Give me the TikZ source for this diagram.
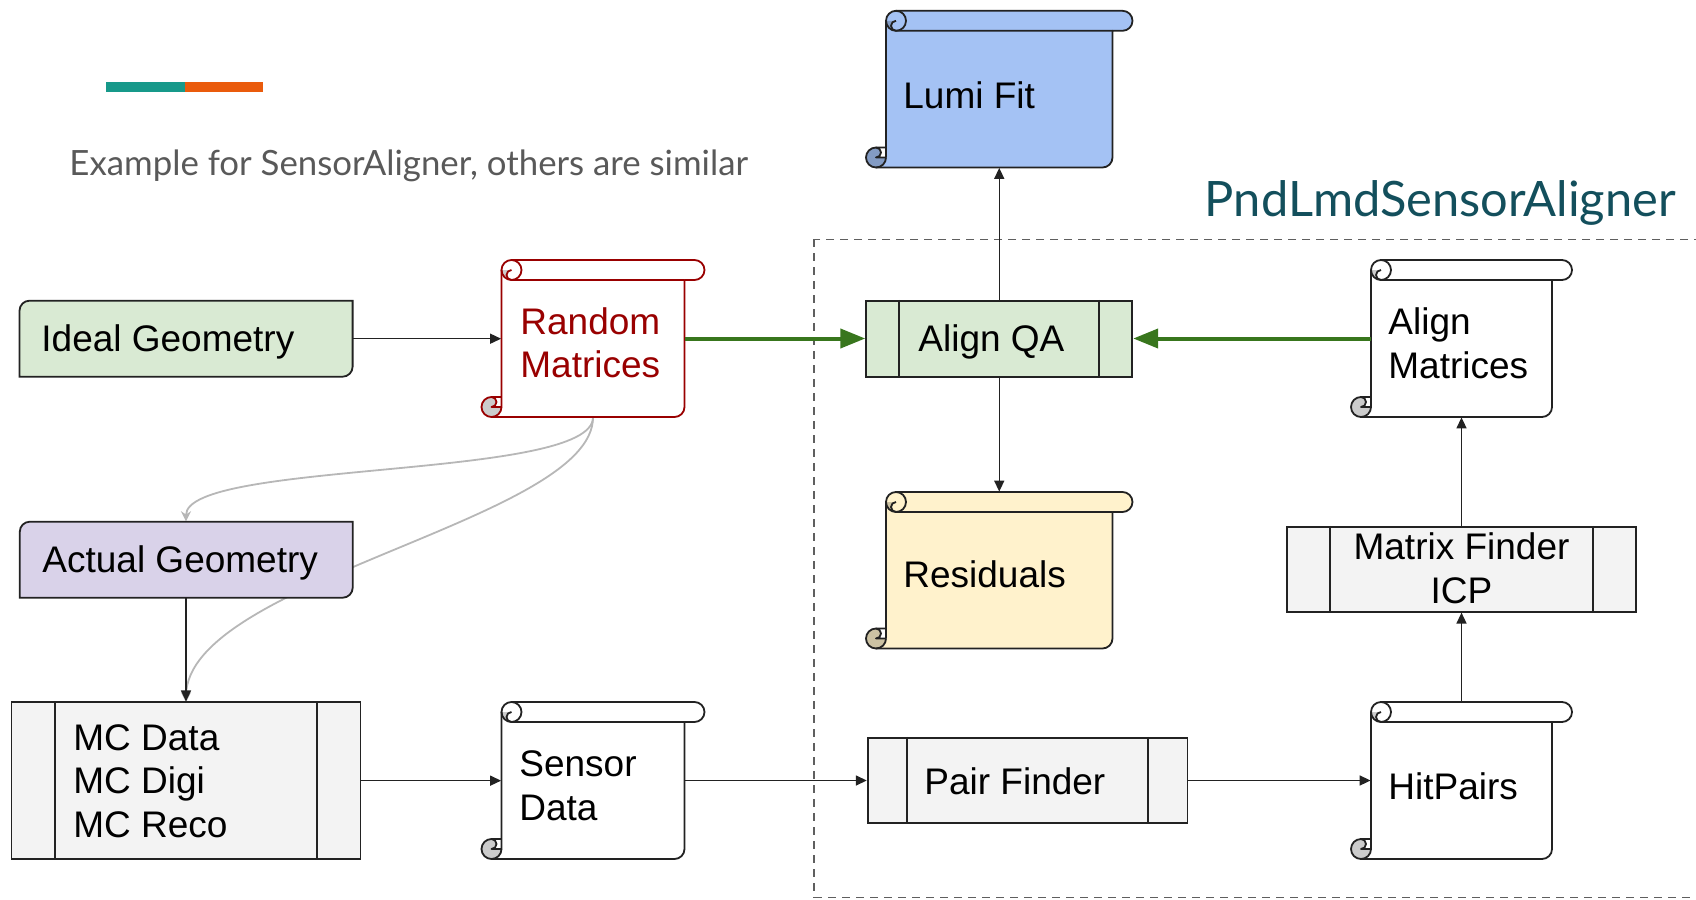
\documentclass[tikz,border=0pt]{standalone}
\usepackage{fontspec}
\setmainfont{Liberation Sans}
\newfontfamily\latofont{Lato}
\usetikzlibrary{arrows.meta}
\pgfdeclarelayer{background}
\pgfsetlayers{background,main}
\definecolor{geoGreen}{HTML}{D9EAD3}
\definecolor{geoPurple}{HTML}{D9D2E9}
\definecolor{lumiBlue}{HTML}{A4C2F4}
\definecolor{lumiCurl}{HTML}{839BC3}
\definecolor{resYellow}{HTML}{FFF2CC}
\definecolor{resCurl}{HTML}{CCC2A3}
\definecolor{procGray}{HTML}{F3F3F3}
\definecolor{curlGray}{HTML}{CCCCCC}
\definecolor{darkRed}{HTML}{990000}
\definecolor{arrGreen}{HTML}{38761D}
\definecolor{curveGray}{HTML}{B7B7B7}
\definecolor{edgeBlack}{HTML}{222222}
\definecolor{titleGray}{HTML}{595959}
\definecolor{titleTeal}{HTML}{134F5C}
\definecolor{barTeal}{HTML}{17998A}
\definecolor{barOrange}{HTML}{EA5B0C}
\definecolor{dashGray}{HTML}{5F5F5F}

% scroll: x0 y0 x1 y1 fill draw curl (pixel coordinates, y down)
\newcommand\scrollshape[7]{%
  \fill[#5] ({#1+10},#4) arc[start angle=90,end angle=0,radius=10] -- ({#1+20},{#2+10}) arc[start angle=180,end angle=270,radius=10] -- ({#3-10},#2) arc[start angle=270,end angle=450,radius=10] -- ({#3-20},{#2+20}) -- ({#3-20},{#4-10}) arc[start angle=0,end angle=90,radius=10] -- cycle;
  \fill[#7] ({#1+20},{#2+10}) arc[start angle=180,end angle=90,radius=10] arc[start angle=90,end angle=270,radius=5] -- cycle;
  \fill[#7] ({#1+10},{#4-20}) arc[start angle=270,end angle=90,radius=10] arc[start angle=90,end angle=0,radius=10] -- ({#1+10},{#4-10}) arc[start angle=90,end angle=-90,radius=5] -- cycle;
  \draw[scrollline,draw=#6] ({#1+20},{#4-10}) -- ({#1+20},{#2+10}) arc[start angle=180,end angle=270,radius=10] -- ({#3-10},#2) arc[start angle=270,end angle=450,radius=10] -- ({#3-20},{#2+20}) -- ({#3-20},{#4-10}) arc[start angle=0,end angle=90,radius=10] -- ({#1+10},#4) arc[start angle=90,end angle=270,radius=10] -- ({#1+20},{#4-20});
  \draw[scrollline,draw=#6] ({#1+30},#2) arc[start angle=-90,end angle=90,radius=10] arc[start angle=90,end angle=270,radius=5];
  \draw[scrollline,draw=#6] ({#1+20},{#2+10}) arc[start angle=180,end angle=90,radius=10] -- ({#3-20},{#2+20});
  \draw[scrollline,draw=#6] ({#1+10},{#4-20}) arc[start angle=-90,end angle=90,radius=5] -- ({#1+20},{#4-10});
  \draw[scrollline,draw=#6] ({#1+10},#4) arc[start angle=90,end angle=0,radius=10];
}

\tikzset{
  scrollline/.style={line width=0.9pt, line join=round},
  shp/.style={inner sep=0pt, draw=none},
  proc/.style={inner sep=0pt, draw=edgeBlack, line width=0.9pt, fill=procGray},
  geoline/.style={draw=edgeBlack, line width=0.9pt},
  barline/.style={draw=edgeBlack, line width=0.9pt},
  txt/.style={font=\fontsize{18.5pt}{21.75pt}\selectfont, inner sep=0pt, anchor=base west, align=left, text=black},
  blk/.style={draw=edgeBlack, line width=0.75pt, -{Triangle[length=5.5pt,width=5pt]}},
  grn/.style={draw=arrGreen, line width=2pt, -{Triangle[length=12.5pt,width=9.5pt]}},
  gry/.style={draw=curveGray, line width=0.9pt, -{Stealth[length=5pt,width=5pt]}},
  dashbox/.style={draw=dashGray, line width=0.75pt, dash pattern=on 4pt off 3pt},
}

\begin{document}
\begin{tikzpicture}[x=0.5pt,y=-0.5pt]
\useasboundingbox (0,0) rectangle (1696,899);

% header
\fill[barTeal] (106,82) rectangle (185,92);
\fill[barOrange] (185,82) rectangle (263,92);
\node[inner sep=0pt, anchor=base west, font=\latofont\fontsize{17.4pt}{20pt}\selectfont, text=titleGray] (extitle) at (69,175) {Example for SensorAligner, others are similar};
\node[inner sep=0pt, anchor=base west, font=\latofont\fontsize{24.4pt}{28pt}\selectfont, text=titleTeal] (pndtitle) at (1204.5,216.7) {PndLmdSensorAligner};

% shape nodes (anchors for connectors)
\node[shp, minimum width=166.55pt, minimum height=38pt] (ig) at (186,338.7) {};
\node[shp, minimum width=166.45pt, minimum height=38pt] (ag) at (186,559.7) {};
\node[shp, minimum width=91.5pt, minimum height=78.5pt] (rm) at (593,338.5) {};
\node[shp, minimum width=113.25pt, minimum height=78.35pt] (lf) at (999.25,89.15) {};
\node[shp, minimum width=90.5pt, minimum height=78.5pt] (am) at (1461.5,338.5) {};
\node[shp, minimum width=113.25pt, minimum height=78.25pt] (res) at (999.25,570.25) {};
\node[shp, minimum width=91.5pt, minimum height=78.5pt] (sd) at (593,780.5) {};
\node[shp, minimum width=90.5pt, minimum height=78.5pt] (hp) at (1461.5,780.5) {};

% background: dashed frame and grey curves
\begin{pgfonlayer}{background}
\begin{scope}
\clip (0,0) rectangle (1696,899);
\draw[dashbox] (814,239.3) rectangle (1720,897.3);
\end{scope}
\draw[gry] (rm.south) .. controls (593,480) and (186,460) .. (ag.north);
\draw[gry] (rm.south) .. controls (593,520) and (186,580) .. (186,702.3);
\end{pgfonlayer}

% geometry boxes
\draw[geoline, fill=geoGreen] (19.5,310.7) arc[start angle=180,end angle=270,radius=10] -- (352.6,300.7) -- (352.6,366.7) arc[start angle=0,end angle=90,radius=10] -- (19.5,376.7) -- cycle;
\draw[geoline, fill=geoPurple] (19.8,531.7) arc[start angle=180,end angle=270,radius=10] -- (352.7,521.7) -- (352.7,587.7) arc[start angle=0,end angle=90,radius=10] -- (19.8,597.7) -- cycle;

% process boxes
\node[proc, fill=geoGreen, minimum width=133.05pt, minimum height=38pt] (qa) at (999.25,338.7) {};
\node[proc, minimum width=174.25pt, minimum height=42.5pt] (mf) at (1461.5,569.2) {};
\node[proc, minimum width=174.45pt, minimum height=78.35pt] (mc) at (186,780.65) {};
\node[proc, minimum width=159.85pt, minimum height=42.8pt] (pf) at (1027.55,780.5) {};
\draw[barline] ([xshift=17pt]qa.north west) -- ([xshift=17pt]qa.south west);
\draw[barline] ([xshift=-17pt]qa.north east) -- ([xshift=-17pt]qa.south east);
\draw[barline] ([xshift=22pt]mf.north west) -- ([xshift=22pt]mf.south west);
\draw[barline] ([xshift=-22pt]mf.north east) -- ([xshift=-22pt]mf.south east);
\draw[barline] ([xshift=22pt]mc.north west) -- ([xshift=22pt]mc.south west);
\draw[barline] ([xshift=-22pt]mc.north east) -- ([xshift=-22pt]mc.south east);
\draw[barline] ([xshift=20pt]pf.north west) -- ([xshift=20pt]pf.south west);
\draw[barline] ([xshift=-20pt]pf.north east) -- ([xshift=-20pt]pf.south east);

% scrolls
\scrollshape{481.5}{260}{704.5}{417}{white}{darkRed}{curlGray}
\scrollshape{866}{10.8}{1132.5}{167.5}{lumiBlue}{edgeBlack}{lumiCurl}
\scrollshape{1351}{260}{1572}{417}{white}{edgeBlack}{curlGray}
\scrollshape{866}{492}{1132.5}{648.5}{resYellow}{edgeBlack}{resCurl}
\scrollshape{481.5}{702}{704.5}{859}{white}{edgeBlack}{curlGray}
\scrollshape{1351}{702}{1572}{859}{white}{edgeBlack}{curlGray}

% texts (multi-line nodes: base = baseline of last line)
\node[txt] (igt) at (41,351.7) {Ideal Geometry};
\node[txt] (agt) at (42,572.7) {Actual Geometry};
\node[txt, text=darkRed] (rmt) at (520,377.7) {Random\\Matrices};
\node[txt] (lft) at (903,108.3) {Lumi Fit};
\node[txt] (qat) at (918,351.7) {Align QA};
\node[txt] (amt) at (1388,378.3) {Align\\Matrices};
\node[txt] (rest) at (903,587.3) {Residuals};
\node[txt, anchor=base, align=center] (mft) at (1461.5,603.3) {Matrix Finder\\ICP};
\node[txt] (mct) at (73,837) {MC Data\\MC Digi\\MC Reco};
\node[txt] (sdt) at (519,820) {Sensor\\Data};
\node[txt] (pft) at (924,794) {Pair Finder};
\node[txt] (hpt) at (1388,799) {HitPairs};

% connectors
\draw[blk] (ig.east) -- (ig.east -| rm.west);
\draw[grn] (rm.east) -- (rm.east -| qa.west);
\draw[grn] (am.west) -- (am.west -| qa.east);
\draw[blk] (qa.north) -- (qa.north |- lf.south);
\draw[blk] (qa.south) -- (qa.south |- res.north);
\draw[blk] (ag.south) -- (ag.south |- mc.north);
\draw[blk] (mc.east) -- (mc.east -| sd.west);
\draw[blk] (sd.east) -- (sd.east -| pf.west);
\draw[blk] (pf.east) -- (pf.east -| hp.west);
\draw[blk] (hp.north) -- (mf.south);
\draw[blk] (mf.north) -- (am.south);
\end{tikzpicture}
\end{document}
